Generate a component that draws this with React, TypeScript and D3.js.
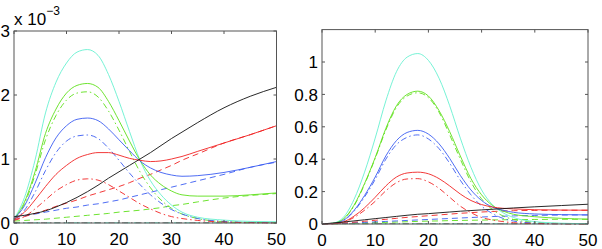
import React from 'react'
import * as d3 from 'd3'

// colours of the series
const CYAN = '#66f0d0'
const GREEN = '#5ee01a'
const BLUE = '#3b5cf2'
const RED = '#f02222'
const BLACK = '#111111'

// left panel (values x 1e-3)
const xLeft = [0, 2, 4, 6, 8, 10, 12, 14, 16, 18, 20, 22, 24, 26, 28, 30, 32, 35, 40, 45, 50]
const cyanL = [0.06, 0.4, 0.98, 1.72, 2.2, 2.5, 2.67, 2.71, 2.62, 2.32, 1.9, 1.43, 0.98, 0.66, 0.44, 0.28, 0.17, 0.09, 0.045, 0.025, 0.02]
const greenL = [0.06, 0.33, 0.8, 1.4, 1.78, 2.03, 2.15, 2.18, 2.12, 1.9, 1.6, 1.28, 0.98, 0.75, 0.6, 0.5, 0.44, 0.42, 0.42, 0.44, 0.47]
const greenDotL = [0.05, 0.3, 0.75, 1.3, 1.68, 1.92, 2.03, 2.05, 1.97, 1.75, 1.45, 1.12, 0.8, 0.55, 0.36, 0.23, 0.14, 0.07, 0.02, 0.01, 0.005]
const greenDashL = [0.03, 0.04, 0.05, 0.06, 0.075, 0.09, 0.105, 0.12, 0.135, 0.15, 0.17, 0.185, 0.2, 0.22, 0.24, 0.27, 0.29, 0.33, 0.39, 0.43, 0.46]
const blueL = [0.07, 0.27, 0.62, 1.02, 1.33, 1.52, 1.62, 1.64, 1.6, 1.47, 1.3, 1.13, 0.97, 0.86, 0.79, 0.75, 0.73, 0.74, 0.79, 0.87, 0.96]
const blueDotL = [0.05, 0.2, 0.48, 0.82, 1.1, 1.28, 1.36, 1.375, 1.32, 1.17, 0.98, 0.78, 0.6, 0.44, 0.31, 0.21, 0.14, 0.07, 0.025, 0.01, 0.005]
const blueDashL = [0.08, 0.11, 0.14, 0.17, 0.2, 0.23, 0.25, 0.28, 0.3, 0.33, 0.36, 0.4, 0.44, 0.48, 0.52, 0.56, 0.6, 0.66, 0.76, 0.87, 0.95]
const redL = [0.06, 0.17, 0.36, 0.57, 0.76, 0.9, 1.01, 1.07, 1.1, 1.1, 1.06, 1.01, 0.98, 0.96, 0.97, 1.0, 1.04, 1.12, 1.25, 1.38, 1.52]
const redDotL = [0.04, 0.1, 0.22, 0.36, 0.5, 0.6, 0.67, 0.69, 0.67, 0.6, 0.5, 0.4, 0.3, 0.22, 0.15, 0.1, 0.07, 0.04, 0.015, 0.005, 0.002]
const redDashL = [0.05, 0.1, 0.15, 0.2, 0.26, 0.31, 0.36, 0.42, 0.47, 0.52, 0.57, 0.63, 0.7, 0.76, 0.83, 0.9, 0.98, 1.08, 1.25, 1.38, 1.52]
const blackL = [0.1, 0.12, 0.15, 0.19, 0.25, 0.32, 0.4, 0.49, 0.59, 0.7, 0.8, 0.9, 1.0, 1.1, 1.21, 1.32, 1.42, 1.57, 1.8, 1.98, 2.12]
const zeroL = xLeft.map(() => 0.004)

// right panel
const xRight = [0, 2, 4, 6, 8, 10, 12, 14, 16, 18, 20, 22, 24, 26, 28, 30, 32, 34, 36, 40, 45, 50]
const cyanR = [0, 0.005, 0.04, 0.15, 0.32, 0.53, 0.76, 0.94, 1.03, 1.052, 1.01, 0.9, 0.73, 0.53, 0.35, 0.21, 0.12, 0.07, 0.04, 0.015, 0.005, 0.002]
const greenR = [0, 0.004, 0.03, 0.115, 0.25, 0.41, 0.59, 0.73, 0.8, 0.82, 0.79, 0.7, 0.57, 0.42, 0.28, 0.18, 0.115, 0.08, 0.06, 0.045, 0.035, 0.03]
const greenDotR = [0, 0.004, 0.03, 0.11, 0.245, 0.405, 0.58, 0.72, 0.79, 0.81, 0.78, 0.69, 0.55, 0.4, 0.26, 0.155, 0.09, 0.05, 0.028, 0.01, 0.003, 0.001]
const greenDashR = [0, 0.001, 0.002, 0.004, 0.006, 0.008, 0.01, 0.012, 0.014, 0.016, 0.018, 0.019, 0.021, 0.022, 0.023, 0.024, 0.025, 0.026, 0.027, 0.028, 0.029, 0.029]
const blueR = [0, 0.003, 0.022, 0.083, 0.176, 0.29, 0.42, 0.515, 0.565, 0.578, 0.555, 0.495, 0.405, 0.3, 0.21, 0.145, 0.105, 0.085, 0.072, 0.062, 0.058, 0.056]
const blueDotR = [0, 0.003, 0.02, 0.078, 0.167, 0.275, 0.4, 0.49, 0.535, 0.55, 0.525, 0.465, 0.375, 0.27, 0.18, 0.11, 0.065, 0.035, 0.018, 0.006, 0.002, 0.001]
const blueDashR = [0, 0.002, 0.004, 0.007, 0.01, 0.013, 0.016, 0.019, 0.022, 0.025, 0.028, 0.031, 0.034, 0.037, 0.04, 0.043, 0.046, 0.048, 0.05, 0.053, 0.055, 0.056]
const redR = [0, 0.002, 0.013, 0.048, 0.1, 0.165, 0.235, 0.29, 0.315, 0.32, 0.31, 0.28, 0.235, 0.185, 0.145, 0.12, 0.105, 0.097, 0.093, 0.088, 0.086, 0.085]
const redDotR = [0, 0.002, 0.011, 0.04, 0.085, 0.14, 0.205, 0.255, 0.278, 0.28, 0.26, 0.22, 0.165, 0.11, 0.07, 0.04, 0.025, 0.015, 0.008, 0.003, 0.001, 0]
const redDashR = [0, 0.002, 0.006, 0.011, 0.017, 0.023, 0.029, 0.035, 0.041, 0.046, 0.051, 0.056, 0.061, 0.066, 0.07, 0.074, 0.077, 0.08, 0.082, 0.084, 0.085, 0.085]
const blackR = [0, 0.006, 0.012, 0.019, 0.026, 0.033, 0.04, 0.047, 0.054, 0.06, 0.064, 0.069, 0.074, 0.079, 0.083, 0.087, 0.091, 0.095, 0.099, 0.106, 0.114, 0.122]
const zeroR = xRight.map(() => 0.002)

const xTicks = [0, 10, 20, 30, 40, 50]
const yTicksL = [0, 1, 2, 3]
const yTicksR = [0, 0.2, 0.4, 0.6, 0.8, 1]

const DASH = '6,4'
const DASHDOT = '6,3,1.5,3'
const FONT = 'Liberation Sans, Arial, Helvetica, sans-serif'

type Series = { ys: number[], color: string, dash?: string }

const Panel = ({ box, xs, yMax, yTicks, series }: {
  box: [number, number, number, number], xs: number[], yMax: number, yTicks: number[], series: Series[]
}) => {
  const [x0, x1, y0, y1] = box
  const x = d3.scaleLinear().domain([0, 50]).range([x0, x1])
  const y = d3.scaleLinear().domain([0, yMax]).range([y1, y0])
  const tk = 3
  return (
    <g>
      {series.map((s, i) => {
        const line = d3.line<number>()
          .x((_, j) => x(xs[j]))
          .y(d => y(d))
          .curve(d3.curveMonotoneX)
        return <path key={i} d={line(s.ys) ?? ''} fill='none' stroke={s.color}
          strokeWidth={0.9} strokeDasharray={s.dash} />
      })}
      <rect x={x0} y={y0} width={x1 - x0} height={y1 - y0} fill='none' stroke='#555' strokeWidth={1} />
      {xTicks.map(t => (
        <g key={'x' + t}>
          <line x1={x(t)} x2={x(t)} y1={y1} y2={y1 - tk} stroke='#555' />
          <line x1={x(t)} x2={x(t)} y1={y0} y2={y0 + tk} stroke='#555' />
          <text x={x(t)} y={y1 + 22} textAnchor='middle' fontSize={17} fontFamily={FONT} fill='#000'>{t}</text>
        </g>
      ))}
      {yTicks.map(t => (
        <g key={'y' + t}>
          <line x1={x0} x2={x0 + tk} y1={y(t)} y2={y(t)} stroke='#555' />
          <line x1={x1} x2={x1 - tk} y1={y(t)} y2={y(t)} stroke='#555' />
          <text x={x0 - 4} y={y(t)} dy='0.36em' textAnchor='end' fontSize={17} fontFamily={FONT} fill='#000'>{t}</text>
        </g>
      ))}
    </g>
  )
}

export default function App() {
  const left: Series[] = [
    { ys: zeroL, color: CYAN, dash: DASH },
    { ys: zeroL, color: '#777', dash: DASHDOT },
    { ys: greenDashL, color: GREEN, dash: DASH },
    { ys: blueDashL, color: BLUE, dash: DASH },
    { ys: redDashL, color: RED, dash: DASH },
    { ys: greenDotL, color: GREEN, dash: DASHDOT },
    { ys: blueDotL, color: BLUE, dash: DASHDOT },
    { ys: redDotL, color: RED, dash: DASHDOT },
    { ys: cyanL, color: CYAN },
    { ys: greenL, color: GREEN },
    { ys: blueL, color: BLUE },
    { ys: redL, color: RED },
    { ys: blackL, color: BLACK },
  ]
  const right: Series[] = [
    { ys: zeroR, color: CYAN, dash: DASH },
    { ys: zeroR, color: '#777', dash: DASHDOT },
    { ys: greenDashR, color: GREEN, dash: DASH },
    { ys: blueDashR, color: BLUE, dash: DASH },
    { ys: redDashR, color: RED, dash: DASH },
    { ys: greenDotR, color: GREEN, dash: DASHDOT },
    { ys: blueDotR, color: BLUE, dash: DASHDOT },
    { ys: redDotR, color: RED, dash: DASHDOT },
    { ys: cyanR, color: CYAN },
    { ys: greenR, color: GREEN },
    { ys: blueR, color: BLUE },
    { ys: redR, color: RED },
    { ys: blackR, color: BLACK },
  ]
  return (
    <div style={{ position: 'absolute', left: 0, top: 0 }}>
      <svg width={602} height={249} style={{ display: 'block', background: '#fff' }}>
        <Panel box={[14, 276.5, 31, 223]} xs={xLeft} yMax={3} yTicks={yTicksL} series={left} />
        <Panel box={[322, 588, 29.6, 224]} xs={xRight} yMax={1.2} yTicks={yTicksR} series={right} />
        <text x={14} y={25} fontSize={17} fontFamily={FONT} fill='#000'>
          x 10<tspan fontSize={12} dy={-10}>−3</tspan>
        </text>
      </svg>
    </div>
  )
}
